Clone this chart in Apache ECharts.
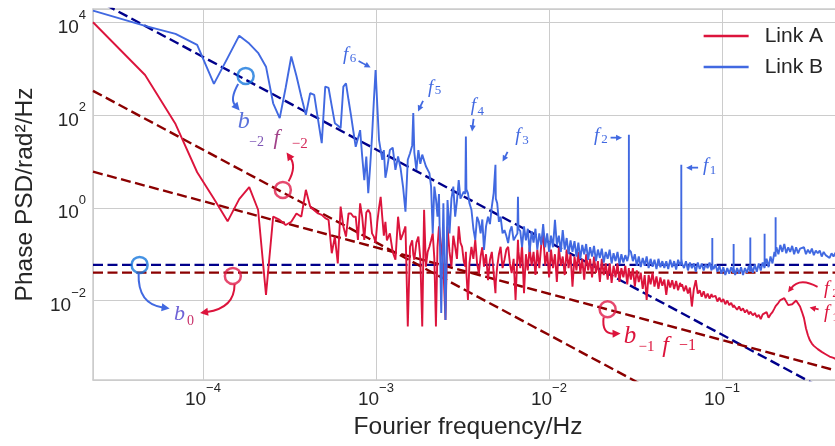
<!DOCTYPE html>
<html>
<head>
<meta charset="utf-8">
<script src="https://cdn.jsdelivr.net/npm/echarts@6/dist/echarts.min.js"></script>
<style>
html,body{margin:0;padding:0;background:#ffffff;}
#chart{width:835px;height:446px;}
</style>
</head>
<body>
<div id="chart"></div>
<script>
// ---------------- DATA ----------------
// frequency resolution of the spectra (Hz) : f = bin * DF
const DF = 1 / 43200;

// frequency bins (shared by both links)
const freqBins = [
  1,2,3,4,5,6,7,8,9,10,
  11,12,13,14,15,16,17,18,19,20,
  21,22,23,24,25,26,27,28,29,30,
  31,32,33,34,35,36,37,38,39,40,
  41,42,43,44,45,46,47,48,49,50,
  52,54,56,58,60,62,64,66,68,70,
  71,72,74,76,78,80,82,84,86,88,
  90,92,94,96,98,100,103,106,109,112,
  115,118,121,124,127,130,133,136,139,142,
  143,144,147,150,154,158,162,166,170,174,
  178,182,187,192,197,202,207,212,213,217,
  222,227,233,239,245,251,257,263,270,277,
  284,286,288,295,302,310,318,326,334,343,
  352,361,370,380,390,400,411,422,433,444,
  456,468,480,493,506,519,533,547,561,576,
  591,607,623,639,656,673,691,709,728,747,
  767,787,808,829,851,873,896,920,944,969,
  995,1021,1048,1076,1104,1133,1163,1194,1225,1251,
  1252,1253,1286,1320,1355,1391,1428,1466,1505,1545,
  1586,1628,1671,1715,1760,1807,1855,1904,1954,2006,
  2059,2114,2170,2228,2287,2348,2410,2474,2514,2515,
  2516,2540,2607,2676,2747,2820,2895,2972,3051,3132,
  3215,3300,3388,3478,3570,3664,3761,3799,3800,3801,
  3861,3963,4068,4176,4287,4401,4518,4638,4761,4887,
  5016,5046,5047,5048,5149,5286,5426,5570,5718,5870,
  6026,6186,6300,6301,6302,6350,6518,6691,6869,7051,
  7238,7430,7621,7622,7623,7825,8033,8246,8465,8690,
  8825,8826,8827,8920,9157,9400,9649,9905,10168,10438,
  10715,11000,11292,11592,11900,12216,12540,12873,13215,13566,
  13926,14296,14676,15065,15465,15876,16297,16730,17174,17630,
  18098,18579,19072,19578,20098,20632,21180,21600
];

// Link A phase PSD, log10(rad^2/Hz)
const linkA_log10PSD = [
  4.01,2.87,1.81,0.77,0.20,-0.29,0.19,0.45,-0.04,-1.88,
  -0.19,-0.26,-0.37,-0.30,-0.12,-0.19,0.39,0.03,-0.05,-0.12,
  -0.15,-0.22,-0.26,-0.98,-0.62,-1.20,0.03,-0.40,-0.62,-0.12,
  -0.12,-0.19,-0.19,-0.69,0.10,-0.20,-0.69,-0.10,-0.04,-0.12,
  -0.55,-0.62,-0.75,-0.30,0.00,0.24,-0.20,-0.60,-0.30,-0.70,
  -0.55,-0.95,-1.12,-0.19,-0.69,-0.55,-0.40,-2.56,-0.84,-0.70,
  -1.00,-1.12,-0.75,-0.62,-1.10,-2.56,-0.04,-1.27,-0.95,-0.84,
  -0.70,-0.55,-1.10,-2.56,-0.85,-0.40,-0.84,-1.30,-2.42,-0.40,
  -0.95,-1.27,-0.60,-0.84,-1.10,-0.40,-0.75,-0.84,-1.15,-1.27,
  -0.95,-1.40,-1.99,-1.20,-0.84,-1.10,-0.69,-1.20,-1.41,-1.05,
  -0.85,-1.27,-1.00,-1.56,-1.12,-0.95,-1.40,-1.84,-1.60,-1.27,
  -1.00,-0.84,-1.30,-1.12,-0.90,-0.84,-1.20,-1.41,-1.10,-1.99,
  -1.00,-0.69,-0.95,-1.30,-0.80,-1.84,-1.00,-1.35,-0.85,-1.25,
  -0.95,-1.45,-0.90,-1.30,-0.80,-0.55,-1.25,-0.95,-1.50,-0.90,
  -1.30,-1.00,-1.60,-0.85,-1.25,-1.05,-1.45,-0.90,-1.30,-1.00,
  -1.70,-1.05,-1.35,-0.95,-1.40,-1.10,-1.55,-1.00,-1.35,-1.10,
  -1.50,-1.05,-1.40,-1.15,-1.60,-1.10,-1.45,-1.20,-1.55,-1.20,
  -1.62,-1.25,-1.50,-1.20,-1.60,-1.30,-1.50,-1.25,-1.65,-1.30,
  -1.40,-1.35,-1.55,-1.30,-1.70,-1.35,-1.60,-1.40,-1.75,-1.45,
  -1.99,-1.45,-1.65,-1.40,-1.70,-1.48,-1.75,-1.50,-1.68,-1.55,
  -1.88,-1.55,-1.72,-1.56,-1.75,-1.58,-1.78,-1.62,-1.70,-1.66,
  -1.72,-1.65,-1.80,-1.68,-1.85,-1.72,-2.13,-1.75,-1.56,-1.85,
  -1.78,-1.92,-1.80,-1.95,-1.85,-1.96,-1.86,-1.92,-1.88,-1.93,
  -1.95,-1.90,-2.02,-1.94,-2.03,-1.97,-2.08,-2.00,-2.10,-2.05,
  -2.15,-2.10,-2.12,-2.11,-2.12,-2.20,-2.13,-2.22,-2.17,-2.26,
  -2.20,-2.30,-2.24,-2.25,-2.26,-2.24,-2.32,-2.27,-2.36,-2.31,
  -2.40,-2.30,-2.33,-2.28,-2.32,-2.25,-2.37,-2.30,-2.25,-2.17,
  -2.15,-2.12,-2.14,-2.10,-2.05,-1.99,-2.02,-1.95,-1.93,-2.10,
  -2.13,-2.08,-2.05,-2.00,-2.04,-2.13,-2.25,-2.38,-2.60,-2.75,
  -2.86,-2.93,-2.98,-3.02,-3.05,-3.08,-3.11,-3.14,-3.16,-3.19,
  -3.21,-3.23,-3.24,-3.26,-3.28,-3.30,-3.31,-3.32
];

// Link B phase PSD, log10(rad^2/Hz)
const linkB_log10PSD = [
  4.26,3.93,3.76,3.52,2.68,3.24,3.72,3.55,3.35,3.05,
  2.26,1.94,2.60,3.27,2.85,2.40,2.01,2.48,2.44,1.90,
  1.40,2.62,2.59,2.20,1.83,1.78,1.72,2.62,2.69,2.33,
  2.00,1.65,1.32,1.50,1.68,1.10,0.60,1.11,0.32,0.90,
  1.54,2.30,2.98,2.20,1.47,1.25,1.04,1.25,0.65,0.82,
  1.25,1.30,0.82,1.11,0.85,0.45,-0.08,1.04,1.18,1.35,
  2.05,1.20,0.82,1.25,0.95,1.15,1.18,0.90,0.89,0.75,
  0.46,-0.55,0.46,0.20,-0.19,0.30,-2.27,0.10,-2.42,0.17,
  -0.55,0.20,0.46,-0.19,0.15,0.60,0.20,0.17,0.35,0.30,
  1.54,0.40,0.32,0.10,-0.04,-0.45,-0.69,-0.19,-0.30,-0.55,
  -0.25,-0.91,-0.40,-0.19,-0.35,0.03,0.32,0.93,0.20,0.10,
  -0.30,-0.19,-0.55,-0.48,-0.60,-0.76,-0.50,-0.40,-0.70,-0.62,
  -0.55,0.24,-0.45,-0.50,-0.85,-0.40,-0.70,-0.45,-0.95,-0.50,
  -0.75,-0.45,-0.90,-0.55,-0.80,-0.35,-0.85,-0.55,-0.95,-0.60,
  -0.85,-0.26,-0.80,-0.60,-0.95,-0.48,-0.90,-0.65,-1.00,-0.70,
  -0.95,-0.72,-1.05,-0.75,-1.10,-0.80,-1.00,-0.78,-1.12,-0.85,
  -1.05,-0.82,-1.15,-0.90,-1.08,-0.88,-1.18,-0.95,-1.10,-0.90,
  -1.20,-0.98,-1.15,-0.95,-1.22,-1.00,-1.18,-1.02,-1.15,-1.00,
  1.58,-0.90,-0.95,-1.15,-1.00,-1.25,-1.05,-1.28,-1.08,-1.25,
  -1.05,-1.30,-1.10,-1.27,-1.12,-1.32,-1.10,-1.28,-1.15,-1.30,
  -1.15,-1.32,-1.12,-1.28,-1.15,-1.33,-1.12,-1.25,-1.15,0.93,
  -1.10,-1.20,-1.30,-1.15,-1.35,-1.18,-1.30,-1.20,-1.38,-1.18,
  -1.32,-1.20,-1.35,-1.22,-1.30,-1.18,-1.35,-1.25,-0.65,-1.25,
  -1.32,-1.22,-1.38,-1.25,-1.42,-1.28,-1.45,-1.30,-1.42,-1.28,
  -1.40,-1.30,-0.78,-1.30,-1.45,-1.30,-1.42,-1.28,-1.45,-1.30,
  -1.40,-1.25,-1.38,-0.64,-1.35,-1.25,-1.40,-1.22,-1.38,-1.20,
  -1.35,-1.18,-1.30,-0.56,-1.28,-1.10,-1.28,-1.05,-1.20,-0.95,
  -1.05,-0.20,-0.90,-0.85,-1.00,-0.80,-0.95,-0.78,-0.98,-0.85,
  -0.95,-0.82,-1.00,-0.85,-0.98,-0.88,-0.92,-0.85,-1.00,-0.90,
  -0.98,-0.88,-1.02,-0.92,-0.98,-0.92,-1.05,-0.95,-1.02,-1.00,
  -1.08,-0.98,-1.05,-0.97,-1.02,-0.98,-1.03,-1.00
];

// fitted noise models PSD = b * f^alpha  (0: B white, 1: B f^-2, 2: A white, 3: A f^-1, 4: A f^-2)
const fitCoef  = [0.0588, 1.83e-5, 0.0400, 1.40e-4, 1.81e-7];
const fitAlpha = [0, -2, 0, -1, -2];

// marked points on the fits (Hz, rad^2/Hz)
const markFreq = [1.766e-4, 2.897e-4, 4.305e-5, 1.489e-4, 2.183e-2];
const markPSD  = [710, 2.45, 0.0588, 0.0340, 0.00646];

// axis limits (log10 units); the visible window ends at 0.45 Hz
const X_MIN = Math.log10(DF), X_MAX = -0.3465;
const Y_MIN = -3.717, Y_MAX = 4.296;

// ---------------- STYLE ----------------
const FONT = '"Liberation Sans", Arial, sans-serif';
const MATH = '"Liberation Serif", "DejaVu Serif", serif';
const TXT = '#262626';
const SPINE = '#cccccc';
const RED = '#dc143c', BLUE = '#4169e1';
const NAVY = '#00008b', DARKRED = '#8b0000';
const fitColor = [NAVY, NAVY, DARKRED, DARKRED, DARKRED];
const markColor = ['#1677dc', '#e01c4a', '#1677dc', '#e01c4a', '#e01c4a'];

if (freqBins.length !== linkA_log10PSD.length || freqBins.length !== linkB_log10PSD.length) {
  console.error('length mismatch', freqBins.length, linkA_log10PSD.length, linkB_log10PSD.length);
}

const lf = k => Math.log10(k * DF);
const dataA = freqBins.map((k, i) => [lf(k), linkA_log10PSD[i]]);
const dataB = freqBins.map((k, i) => [lf(k), linkB_log10PSD[i]]);
const fitData = i => [X_MIN, X_MAX].map(x => [x, Math.log10(fitCoef[i]) + fitAlpha[i] * x]);

function decadeLabel(v) {
  const r = Math.round(v);
  if (Math.abs(v - r) > 1e-6) return '';
  return '{b|10}{s|' + (r < 0 ? '\u2212' : '') + Math.abs(r) + '}';
}

const chart = echarts.init(document.getElementById('chart'), null, {renderer: 'canvas'});

const series = [];
fitCoef.forEach((b, i) => {
  series.push({
    type: 'line', data: fitData(i), symbol: 'none', silent: true, z: 2,
    lineStyle: {color: fitColor[i], width: 2.4, type: [10, 4.5]}
  });
});
series.push({
  name: 'Link A', type: 'line', data: dataA, symbol: 'none', showSymbol: false, z: 3,
  lineStyle: {color: RED, width: 1.9}, itemStyle: {color: RED}
});
series.push({
  name: 'Link B', type: 'line', data: dataB, symbol: 'none', showSymbol: false, z: 4,
  lineStyle: {color: BLUE, width: 1.9}, itemStyle: {color: BLUE}
});
series.push({
  type: 'scatter', z: 6, silent: true, symbol: 'circle', symbolSize: 16,
  data: markFreq.map((f, i) => ({
    value: [Math.log10(f), Math.log10(markPSD[i])],
    itemStyle: {color: 'rgba(0,0,0,0)', borderColor: markColor[i], borderWidth: 2.5}
  }))
});

const richTick = (lh) => ({
  b: {fontSize: 19, lineHeight: lh, fontFamily: FONT, color: TXT},
  s: {fontSize: 13, lineHeight: 14, verticalAlign: 'top', fontFamily: FONT, color: TXT}
});
const spine = {show: true, onZero: false, lineStyle: {color: SPINE, width: 1.5}};

const option = {
  animation: false,
  backgroundColor: '#ffffff',
  grid: {left: 93, right: 0, top: 9, bottom: 66, show: false, containLabel: false, outerBoundsMode: 'none'},
  legend: {
    data: ['Link A', 'Link B'], orient: 'vertical', right: 12, top: 25, padding: 0,
    itemGap: 9, icon: 'rect', itemWidth: 45, itemHeight: 2.5, selectedMode: false,
    textStyle: {fontSize: 21, fontFamily: FONT, color: TXT, lineHeight: 22, padding: [0, 0, 0, 11]}
  },
  xAxis: [{
    type: 'value', min: X_MIN, max: X_MAX, position: 'bottom',
    name: 'Fourier frequency/Hz', nameLocation: 'middle', nameGap: 34,
    nameTextStyle: {fontSize: 24.5, fontFamily: FONT, color: TXT, padding: [0, 0, 0, 8]},
    axisLine: spine, axisTick: {show: false},
    splitLine: {show: true, lineStyle: {color: SPINE, width: 1}},
    axisLabel: {formatter: decadeLabel, margin: 2, rich: richTick(36)}
  }, {
    type: 'value', min: X_MIN, max: X_MAX, position: 'top',
    axisLine: spine, axisTick: {show: false}, axisLabel: {show: false}, splitLine: {show: false}
  }],
  yAxis: {
    type: 'value', min: Y_MIN, max: Y_MAX, position: 'left',
    name: 'Phase PSD/rad\u00b2/Hz', nameLocation: 'middle', nameGap: 55,
    nameTextStyle: {fontSize: 24.5, fontFamily: FONT, color: TXT},
    axisLine: spine, axisTick: {show: false},
    splitLine: {show: true, lineStyle: {color: SPINE, width: 1}},
    axisLabel: {formatter: decadeLabel, margin: 7, padding: [10, 0, 0, 0], rich: richTick(38)}
  },
  series: series
};
chart.setOption(option);

// ---------------- ANNOTATIONS ----------------
const toPx = (logf, logp) => chart.convertToPixel({xAxisIndex: 0, yAxisIndex: 0}, [logf, logp]);
const markPx = i => toPx(Math.log10(markFreq[i]), Math.log10(markPSD[i]));
const peakPx = (arr, bin) => { const i = freqBins.indexOf(bin); return toPx(lf(bin), arr[i]); };

function arrowEls(p0, c, p1, color, hl, hw, lw) {
  const dx = p1[0] - c[0], dy = p1[1] - c[1];
  const L = Math.hypot(dx, dy) || 1, ux = dx / L, uy = dy / L;
  const bx = p1[0] - ux * hl, by = p1[1] - uy * hl;
  return [
    {type: 'bezierCurve', z: 100, silent: true,
     shape: {x1: p0[0], y1: p0[1], x2: bx + ux, y2: by + uy, cpx1: c[0], cpy1: c[1]},
     style: {stroke: color, lineWidth: lw, fill: null}},
    {type: 'polygon', z: 100, silent: true,
     shape: {points: [[p1[0], p1[1]], [bx - uy * hw, by + ux * hw], [bx + uy * hw, by - ux * hw]]},
     style: {fill: color}}
  ];
}
function textEl(t, x, y, size, color, italic) {
  return {type: 'text', x: x, y: y, z: 101, silent: true,
    style: {text: t, fontSize: size, fontFamily: MATH, fontStyle: italic ? 'italic' : 'normal',
      fill: color, textAlign: 'center', textVerticalAlign: 'middle', align: 'center', verticalAlign: 'middle'}};
}

// each group: anchor (actual pixel) + its design-reference pixel; items are drawn shifted by the difference
const groups = [
  {at: markPx(0), ref: [246, 76], arrows: [[[238.5, 84], [230, 99], [240, 110.5], BLUE, 8, 4, 2]],
   texts: [['b', 244, 121.5, 24, '#5a72dc', true], ['\u22122', 257, 142, 14, '#7d55b5', false],
           ['f', 277, 138, 22, '#a14289', true], ['\u22122', 300, 144, 15, '#d52b5a', false]]},
  {at: markPx(1), ref: [283.3, 190], arrows: [[[289, 181.5], [297, 167], [287, 152.5], RED, 8, 4, 2]], texts: []},
  {at: markPx(2), ref: [140, 265], arrows: [[[139, 273.5], [138, 304], [170, 308.5], BLUE, 8, 4, 2]],
   texts: [['b', 180, 314.5, 22, '#6e62d6', true], ['0', 191, 321, 14, '#c8306a', false]]},
  {at: markPx(3), ref: [233.3, 276], arrows: [[[235, 284.5], [235, 308], [200.5, 313], RED, 8, 4, 2]], texts: []},
  {at: markPx(4), ref: [610, 309.3], arrows: [[[606, 317.5], [604, 334], [623, 333.5], RED, 8, 4, 2]],
   texts: [['b', 632.5, 336, 25, RED, true], ['\u22121', 649, 347, 15, RED, false],
           ['f', 668, 345.5, 24, RED, true], ['\u22121', 690, 346, 16, RED, false]]},
  {at: peakPx(linkB_log10PSD, 43), ref: [376, 70], arrows: [[[359, 61], [365, 64.2], [371, 67.5], BLUE, 6, 3, 1.8]],
   texts: [['f', 346, 54.7, 19, BLUE, true], ['6', 353.5, 59, 13, BLUE, false]]},
  {at: peakPx(linkB_log10PSD, 71), ref: [413.7, 113.1], arrows: [[[423.5, 101], [421, 106], [418.5, 111.5], BLUE, 6, 3, 1.8]],
   texts: [['f', 431, 88, 19, BLUE, true], ['5', 438.5, 91, 13, BLUE, false]]},
  {at: peakPx(linkB_log10PSD, 143), ref: [466.3, 136.7], arrows: [[[474, 119], [473.2, 125], [472.5, 131.5], BLUE, 6, 3, 1.8]],
   texts: [['f', 473.7, 106.3, 19, BLUE, true], ['4', 481.2, 111.7, 13, BLUE, false]]},
  {at: peakPx(linkB_log10PSD, 212), ref: [495.9, 164.9], arrows: [[[508, 152], [505.5, 157], [503, 161.5], BLUE, 6, 3, 1.8]],
   texts: [['f', 518.3, 136.3, 19, BLUE, true], ['3', 526, 141, 13, BLUE, false]]},
  {at: peakPx(linkB_log10PSD, 1252), ref: [629.3, 134.8], arrows: [[[611, 137.7], [617, 137.7], [622.5, 137.7], BLUE, 6, 3, 1.8]],
   texts: [['f', 597, 136, 19, BLUE, true], ['2', 605, 140, 13, BLUE, false]]},
  {at: peakPx(linkB_log10PSD, 2515), ref: [681.7, 164.9], arrows: [[[698.5, 167.7], [692.5, 167.7], [686.5, 167.7], BLUE, 6, 3, 1.8]],
   texts: [['f', 706, 165.7, 19, BLUE, true], ['1', 713.5, 170.5, 13, BLUE, false]]},
  {at: peakPx(linkA_log10PSD, 10168), ref: [786.7, 297.4], arrows: [[[818, 287], [800, 277], [788.5, 292.5], RED, 6, 3, 1.8]],
   texts: [['f', 827, 289, 19, RED, true], ['2', 836, 294, 13, RED, false]]},
  {at: peakPx(linkA_log10PSD, 11592), ref: [796.5, 300.6], arrows: [[[819, 309.5], [814.5, 308.5], [810, 307.5], RED, 6, 3, 1.8]],
   texts: [['f', 827, 313, 19, RED, true], ['1', 836, 318, 13, RED, false]]}
];

const els = [];
groups.forEach(g => {
  const sx = g.at[0] - g.ref[0], sy = g.at[1] - g.ref[1];
  const sh = p => [p[0] + sx, p[1] + sy];
  g.arrows.forEach(a => els.push(...arrowEls(sh(a[0]), sh(a[1]), sh(a[2]), a[3], a[4], a[5], a[6])));
  g.texts.forEach(t => els.push(textEl(t[0], t[1] + sx, t[2] + sy, t[3], t[4], t[5])));
});
chart.setOption({graphic: {elements: els}});
</script>
</body>
</html>
